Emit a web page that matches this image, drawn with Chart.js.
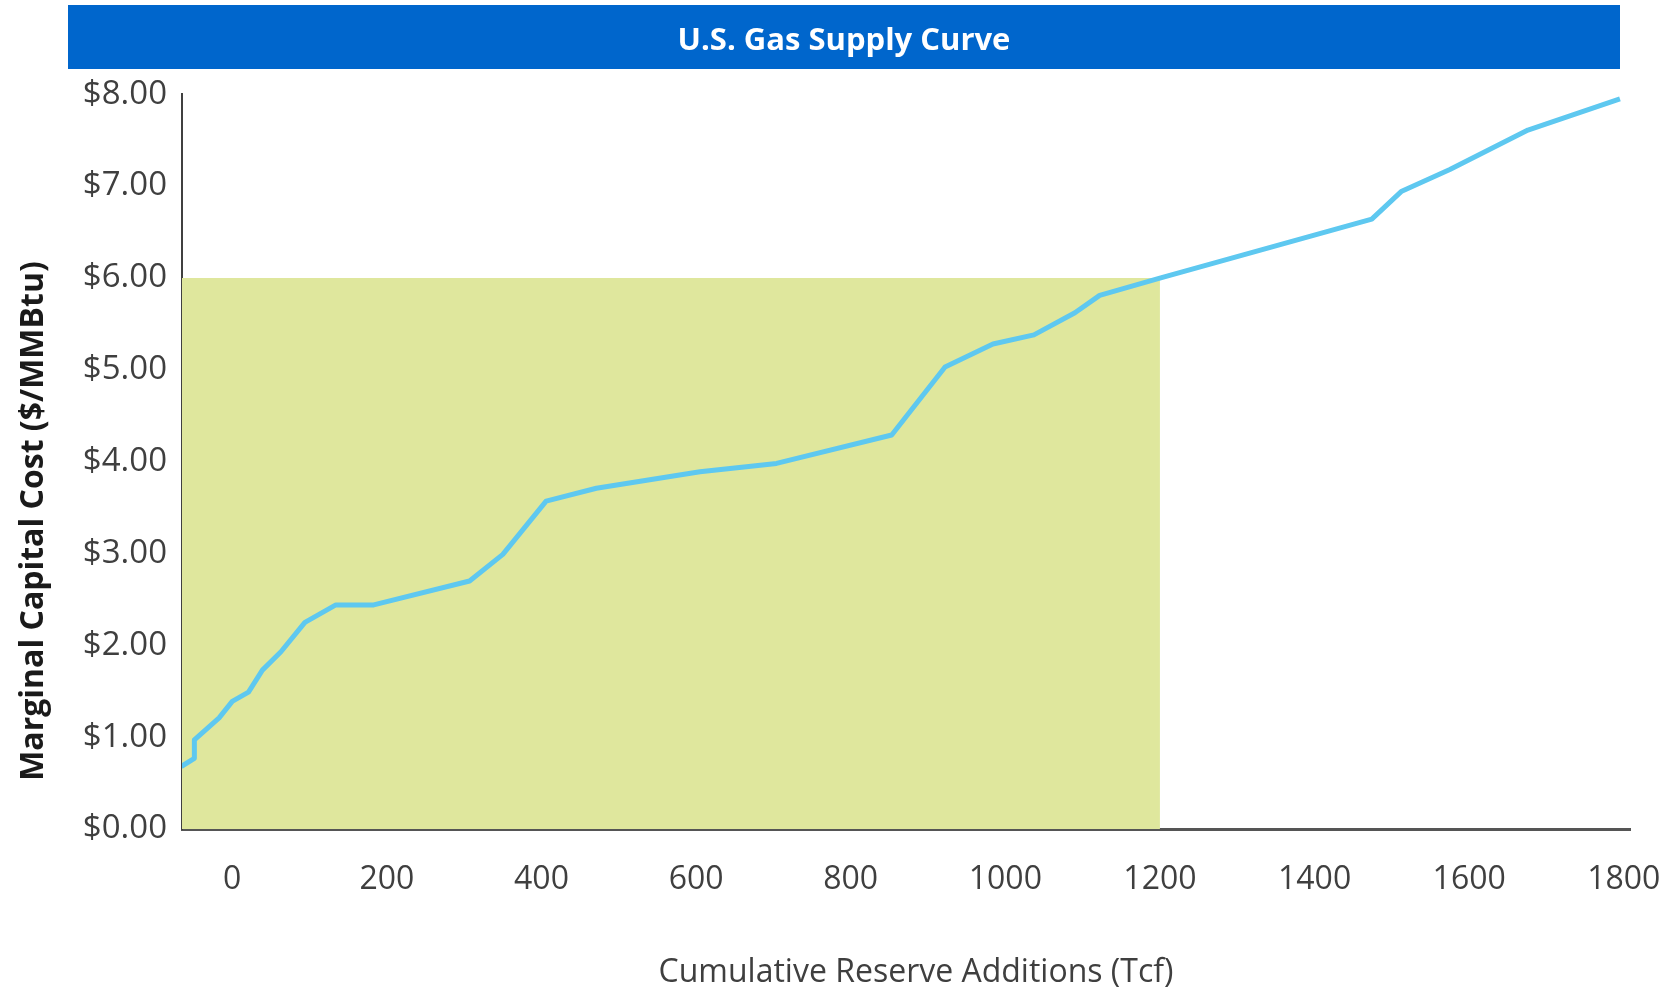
<!DOCTYPE html>
<html>
<head>
<meta charset="utf-8">
<title>U.S. Gas Supply Curve</title>
<script src="https://cdn.jsdelivr.net/npm/chart.js@4.4.1/dist/chart.umd.min.js"></script>
<style>
    html, body { margin: 0; padding: 0; background: #ffffff; }
</style>
</head>
<body>
<canvas id="supplyChart" width="1675" height="990"></canvas>
<script>
// Chart text
const CHART_TITLE = 'U.S. Gas Supply Curve';
const X_TITLE = 'Cumulative Reserve Additions (Tcf)';
const Y_TITLE = 'Marginal Capital Cost ($/MMBtu)';

// Supply curve (Tcf, $/MMBtu)
const supplyX = [-66, -49, -49, -17, 0, 21, 39, 63, 94, 134, 183, 307, 350, 406, 471, 605, 704, 853, 922, 984, 1037, 1090, 1122, 1201, 1474, 1512, 1575, 1676, 1795];
const supplyY = [0.68, 0.77, 0.97, 1.21, 1.39, 1.49, 1.73, 1.93, 2.25, 2.44, 2.44, 2.70, 2.99, 3.57, 3.71, 3.89, 3.98, 4.29, 5.03, 5.28, 5.38, 5.62, 5.81, 6.00, 6.64, 6.94, 7.18, 7.61, 7.95];

// Shaded block: everything up to 1200 Tcf below $6.00
const shadeX = [-65, 1200];
const shadeY = [6, 6];

// Axis ticks
const xTicks = [0, 200, 400, 600, 800, 1000, 1200, 1400, 1600, 1800];
const yTicks = [0, 1, 2, 3, 4, 5, 6, 7, 8];

Chart.defaults.font.family = '"Open Sans", sans-serif';

// White page + blue banner behind the title
const bannerPlugin = {
    id: 'banner',
    beforeDraw(chart) {
        const ctx = chart.ctx;
        ctx.save();
        ctx.fillStyle = '#ffffff';
        ctx.fillRect(0, 0, chart.width, chart.height);
        ctx.fillStyle = '#0066cc';
        ctx.fillRect(68, 5, 1552, 64);
        ctx.restore();
    }
};

// Axis titles are placed by hand, the original has them off-centre
const axisTitlePlugin = {
    id: 'axisTitles',
    afterDraw(chart) {
        const ctx = chart.ctx;
        ctx.save();
        ctx.textAlign = 'center';
        ctx.textBaseline = 'middle';

        ctx.font = '32px "Open Sans", sans-serif';
        ctx.fillStyle = '#3f3f3f';
        ctx.fillText(X_TITLE, 916, 973);

        ctx.translate(34, 521);
        ctx.rotate(-Math.PI / 2);
        ctx.font = 'bold 32px "Open Sans", sans-serif';
        ctx.fillStyle = '#1a1a1a';
        ctx.fillText(Y_TITLE, 0, 0);
        ctx.restore();
    }
};

const ctx = document.getElementById('supplyChart').getContext('2d');

new Chart(ctx, {
    type: 'line',
    data: {
        datasets: [
            {
                label: 'Supply curve',
                data: supplyX.map((x, i) => ({ x: x, y: supplyY[i] })),
                borderColor: '#5ec8f0',
                borderWidth: 5,
                borderJoinStyle: 'round',
                pointRadius: 0,
                tension: 0,
                fill: false,
                order: 0
            },
            {
                label: 'Below $6.00',
                data: shadeX.map((x, i) => ({ x: x, y: shadeY[i] })),
                borderWidth: 0,
                borderColor: 'rgba(0,0,0,0)',
                backgroundColor: '#dfe79d',
                pointRadius: 0,
                fill: 'origin',
                order: 1
            }
        ]
    },
    options: {
        responsive: false,
        animation: false,
        layout: {
            padding: { left: 33, right: 20, top: 5, bottom: 3 }
        },
        plugins: {
            legend: { display: false },
            tooltip: { enabled: false },
            title: {
                display: true,
                text: CHART_TITLE,
                color: '#ffffff',
                font: { size: 31, weight: 'bold' },
                padding: { top: 18, bottom: 34 }
            }
        },
        scales: {
            x: {
                type: 'linear',
                min: -65,
                max: 1808,
                afterBuildTicks: (scale) => {
                    scale.ticks = xTicks.map(v => ({ value: v }));
                },
                afterFit: (scale) => {
                    // fixed room below the axis, and a fixed right margin
                    scale.height = 158;
                    scale.paddingLeft = 0;
                    scale.paddingRight = 45;
                },
                grid: { display: false, drawTicks: false },
                border: { display: true, color: '#555555', width: 3 },
                ticks: {
                    color: '#3f3f3f',
                    font: { size: 32 },
                    padding: 32,
                    maxRotation: 0,
                    autoSkip: false,
                    callback: (v) => String(v)
                }
            },
            y: {
                type: 'linear',
                min: 0,
                max: 8,
                afterBuildTicks: (scale) => {
                    scale.ticks = yTicks.map(v => ({ value: v }));
                },
                afterFit: (scale) => {
                    scale.width = 149;
                },
                grid: { display: false, drawTicks: false },
                border: { display: true, color: '#404040', width: 2 },
                ticks: {
                    color: '#3f3f3f',
                    font: { size: 33 },
                    padding: 15,
                    callback: (v) => '$' + Number(v).toFixed(2)
                }
            }
        }
    },
    plugins: [bannerPlugin, axisTitlePlugin]
});
</script>
</body>
</html>
